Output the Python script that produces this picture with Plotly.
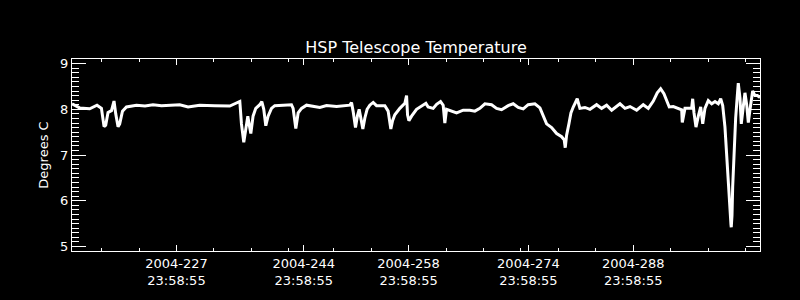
import plotly.graph_objects as go

# Day of year 2004 (fractional) and HSP telescope temperature (deg C)
day = [
    213.05, 214.08, 215.41, 216.39, 216.98, 217.33, 217.55, 217.86, 218.32, 218.66,
    218.89, 219.20, 219.42, 219.79, 220.32, 221.66, 222.8, 223.87, 225.0, 226.10,
    227.44, 228.55, 230.11, 232.12, 234.12, 235.46, 235.68, 235.99, 236.26, 236.53,
    236.70, 236.93, 237.23, 237.59, 238.13, 238.40, 238.66, 238.93, 239.24, 239.69,
    240.13, 241.24, 242.36, 242.58, 242.80, 242.94, 243.25, 243.70, 244.37, 245.70,
    246.15, 247.04, 248.38, 250.15, 250.38, 250.59, 250.91, 251.18, 251.40, 251.62,
    251.89, 252.16, 252.46, 252.82, 253.27, 253.72, 254.83, 255.27, 255.50, 255.63,
    255.86, 256.16, 256.83, 257.50, 257.73, 257.86, 258.04, 258.40, 259.06, 259.95,
    260.31, 260.61, 261.28, 261.74, 262.27, 262.62, 262.84, 263.07, 263.74, 264.41,
    265.29, 266.18, 266.85, 267.52, 268.19, 269.08, 269.75, 270.42, 271.30, 271.97,
    272.64, 273.31, 273.97, 274.87, 275.54, 275.98, 276.43, 277.10, 277.77, 278.44,
    278.78, 278.92, 279.10, 279.41, 279.68, 279.99, 280.21, 280.52, 280.88, 281.55,
    282.22, 283.11, 283.78, 284.45, 285.12, 286.23, 286.90, 287.57, 288.46, 289.34,
    290.01, 290.68, 291.21, 291.66, 292.10, 292.46, 292.81, 293.35, 293.80, 294.47,
    294.55, 294.91, 295.80, 295.94, 296.11, 296.38, 296.69, 297.01, 297.28, 297.58,
    298.02, 298.48, 298.92, 299.36, 299.68, 299.95, 300.25, 300.48, 300.65, 300.83,
    301.05, 301.09, 301.19, 301.28, 301.45, 301.68, 301.90, 302.03, 302.26, 302.43,
    302.70, 302.92, 303.15, 303.37, 303.60, 303.95, 304.26, 304.57, 304.93,
]
temp = [
    8.12, 8.03, 8.01, 8.09, 8.02, 7.62, 7.65, 7.93, 7.97, 8.18,
    7.90, 7.62, 7.68, 7.96, 8.05, 8.09, 8.07, 8.10, 8.08, 8.09,
    8.10, 8.05, 8.09, 8.08, 8.07, 8.17, 7.68, 7.28, 7.61, 7.85,
    7.68, 7.47, 7.85, 8.02, 8.10, 8.17, 8.00, 7.64, 7.85, 8.02,
    8.08, 8.09, 8.10, 8.02, 7.68, 7.58, 7.92, 8.02, 8.09, 8.06,
    8.04, 8.08, 8.06, 8.09, 8.15, 7.96, 7.60, 7.87, 8.00, 7.81,
    7.57, 7.81, 8.00, 8.09, 8.15, 8.08, 8.08, 7.96, 7.64, 7.57,
    7.75, 7.88, 8.02, 8.13, 8.30, 7.88, 7.75, 7.85, 8.00, 8.09,
    8.13, 8.05, 8.02, 8.11, 8.17, 8.09, 7.70, 8.00, 7.96, 7.92,
    7.98, 7.98, 7.96, 8.02, 8.12, 8.10, 8.02, 7.99, 8.08, 8.12,
    8.04, 8.01, 8.10, 8.12, 8.03, 7.85, 7.68, 7.60, 7.47, 7.40,
    7.33, 7.16, 7.43, 7.68, 7.92, 8.05, 8.12, 8.23, 8.02, 8.04,
    8.00, 8.10, 8.02, 8.09, 7.98, 8.12, 8.02, 8.06, 7.98, 8.10,
    8.02, 8.18, 8.36, 8.45, 8.34, 8.17, 8.05, 8.06, 8.03, 7.99,
    7.71, 8.02, 8.02, 8.23, 7.93, 7.61, 7.85, 8.05, 7.68, 8.02,
    8.19, 8.12, 8.17, 8.12, 8.23, 8.08, 7.61, 6.92, 6.44, 5.96,
    5.48, 5.42, 5.68, 6.30, 7.13, 7.81, 8.30, 8.57, 8.24, 7.68,
    8.06, 8.36, 8.10, 7.71, 8.00, 8.40, 8.30, 8.30, 8.26,
]

x_tick_vals = [227, 244, 258, 274, 288]
x_tick_text = ["2004-227<br>23:58:55", "2004-244<br>23:58:55", "2004-258<br>23:58:55",
               "2004-274<br>23:58:55", "2004-288<br>23:58:55"]
x_minor_vals = [217, 222, 227, 232, 237, 242, 248, 253, 258, 263, 268, 273,
                278, 283, 288, 293, 298, 303]
y_tick_vals = [5, 6, 7, 8, 9]

FONT = "DejaVu Sans"

fig = go.Figure()
fig.add_trace(go.Scatter(x=day, y=temp, mode="lines",
                         line=dict(color="white", width=3), showlegend=False,
                         hoverinfo="skip"))

fig.update_layout(
    width=800, height=300,
    paper_bgcolor="black", plot_bgcolor="black",
    margin=dict(l=72, r=40, t=59, b=37),
    font=dict(family=FONT, color="white", size=13),
    title=dict(text="HSP Telescope Temperature", x=0.5, xref="paper",
               y=1 - 47 / 300, yref="container", yanchor="middle", xanchor="center",
               font=dict(family=FONT, size=16, color="white")),
)
fig.update_xaxes(
    range=[213.05, 304.93], showgrid=False, zeroline=False,
    showline=True, linecolor="white", linewidth=1, mirror="ticks",
    ticks="inside", ticklen=6, tickcolor="white", tickwidth=1,
    tickmode="array", tickvals=x_tick_vals, ticktext=x_tick_text,
    tickfont=dict(family=FONT, size=13, color="white"),
    minor=dict(tickmode="array", tickvals=x_minor_vals, ticks="inside",
               ticklen=3, tickcolor="white", tickwidth=1, showgrid=False),
)
fig.update_yaxes(
    range=[4.9, 9.1], showgrid=False, zeroline=False,
    showline=True, linecolor="white", linewidth=1, mirror="ticks",
    ticks="inside", ticklen=14, tickcolor="white", tickwidth=1,
    tickmode="array", tickvals=y_tick_vals, ticktext=[str(v) for v in y_tick_vals],
    tickfont=dict(family=FONT, size=13, color="white"),
    minor=dict(dtick=0.1, tick0=5, ticks="inside", ticklen=7,
               tickcolor="white", tickwidth=1, showgrid=False),
    title=dict(text="Degrees C", font=dict(family=FONT, size=13, color="white"),
               standoff=8),
)

fig.write_html("out.html")
